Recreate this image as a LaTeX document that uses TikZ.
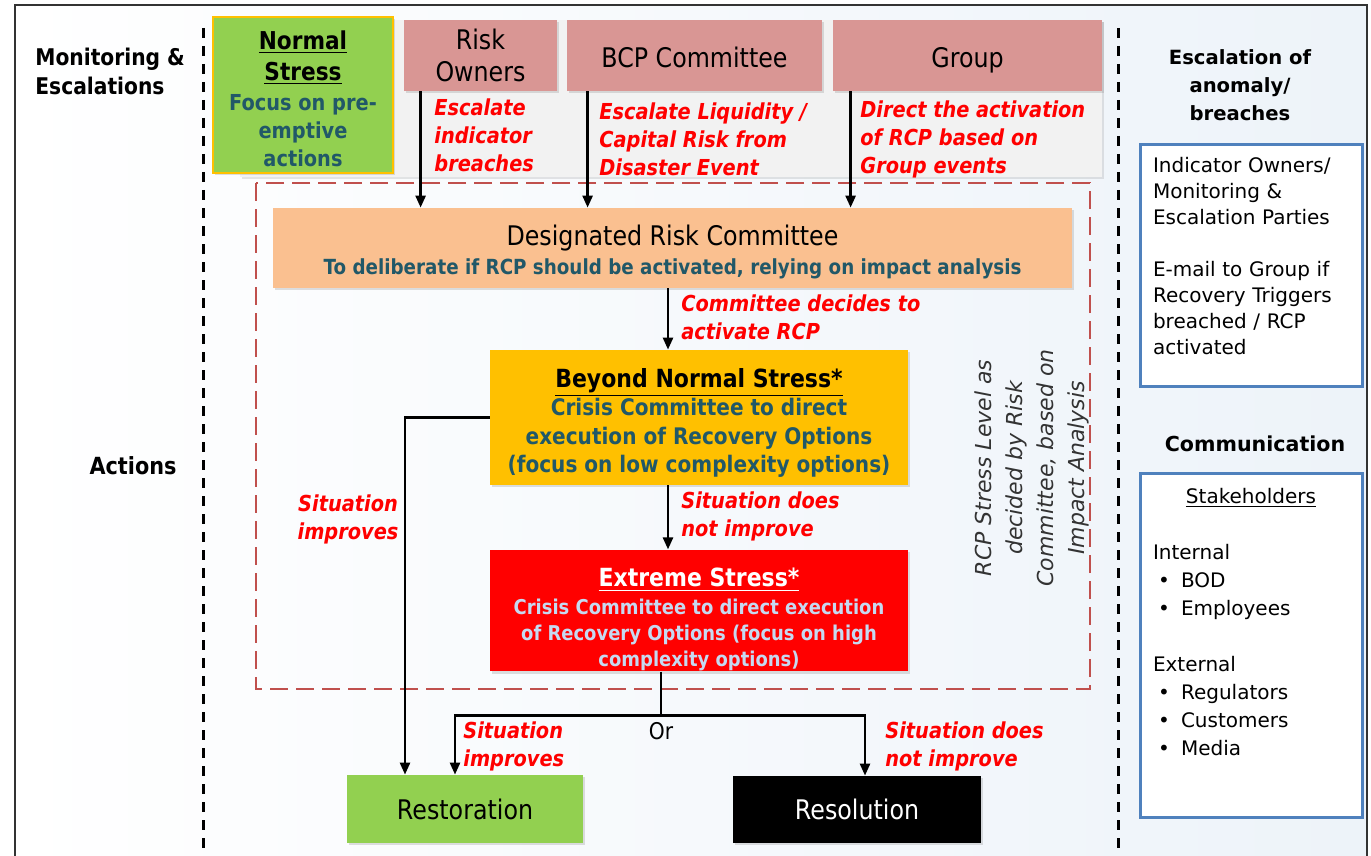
\documentclass[tikz,border=0pt]{standalone}
\usepackage{fontspec}
\setmainfont{DejaVu Sans}
\newfontfamily\condfont{DejaVu Sans}[FakeStretch=0.88]
\usetikzlibrary{arrows.meta,shadows}

\definecolor{pinkbox}{HTML}{D99694}
\definecolor{orangebox}{HTML}{FAC090}
\definecolor{amberbox}{HTML}{FFC000}
\definecolor{greenbox}{HTML}{92D050}
\definecolor{tealtxt}{HTML}{215868}
\definecolor{redtxt}{HTML}{FF0000}
\definecolor{dashred}{HTML}{C0504D}
\definecolor{bluebox}{HTML}{4F81BD}
\definecolor{paletxt}{HTML}{C6D9F1}
\definecolor{panelgray}{HTML}{F2F2F2}
\definecolor{bgblue}{HTML}{EDF3F9}

\newcommand{\fsz}[2]{\fontsize{#1}{#2}\selectfont}
\newcommand{\blt}{\hspace*{2.5pt}\makebox[11.5pt][l]{\textbullet}}

\tikzset{
  box/.style={inner sep=0pt, align=center, font=\condfont\fsz{13.5}{14.5},
    drop shadow={shadow xshift=1.2pt, shadow yshift=-1.2pt, opacity=0.25}},
  redlbl/.style={inner sep=0pt, align=left, anchor=west, text=redtxt,
    font=\condfont\bfseries\itshape\fsz{11}{14}},
  sidehead/.style={inner sep=0pt, align=center, font=\bfseries\fsz{10}{14}},
  sidebox/.style={draw=bluebox, line width=1.5pt, fill=white, minimum width=111pt,
    text width=98pt, inner xsep=0pt, align=left},
  divider/.style={line width=1.5pt, dash pattern=on 5pt off 4pt},
  conn/.style={line width=1.25pt},
  arr/.style={line width=1.25pt, -{Triangle[length=6pt,width=5pt]}}
}

\begin{document}
\begin{tikzpicture}[x=0.5pt,y=-0.5pt]
    \useasboundingbox (0,0) rectangle (1371,856);

    % frame and column dividers
    \shade[left color=white, middle color=white, right color=bgblue] (15,5) rectangle (1367,870);
    \draw[line width=1pt, black!80] (15,5) rectangle (1367,870);
    \draw[divider] (203,28) -- (203,856);
    \draw[divider] (1118,28) -- (1118,856);

    % grey panel behind the top row
    \fill[panelgray, drop shadow={shadow xshift=1.2pt, shadow yshift=-1.2pt, opacity=0.2}] (240,20) rectangle (1102,177);

    % stress levels frame
    \draw[dashred, line width=1.25pt, dash pattern=on 9pt off 4pt] (256,183) rectangle (1090,689);

    % top row
    \node[box, fill=greenbox, draw=amberbox, line width=0.6pt, minimum width=90pt, minimum height=78pt,
        font=\condfont\bfseries\fsz{11}{14}, text=tealtxt] (ns) at (303,95)
        {{\color{black}\fsz{12.3}{14}\rule{0pt}{12.9pt}\underline{Normal}}\\[1.5pt]{\color{black}\fsz{12.3}{14}\underline{Stress}}\\[1pt]Focus on pre-\\emptive\\actions};
    \node[box, fill=pinkbox, minimum width=76.5pt, minimum height=35.5pt, font=\condfont\fsz{13.5}{16}] (ro) at (480.5,55.5) {Risk\\Owners};
    \node[box, fill=pinkbox, minimum width=127.5pt, minimum height=35.5pt] (bcp) at (694.5,55.5) {\rule{0pt}{12pt}BCP Committee};
    \node[box, fill=pinkbox, minimum width=134.5pt, minimum height=35.5pt] (grp) at (967.5,55.5) {\rule{0pt}{15pt}Group};

    % action boxes
    \node[box, fill=orangebox, minimum width=399.5pt, minimum height=40pt] (drc) at (672.5,248)
        {\rule{0pt}{14.3pt}Designated Risk Committee\\{\bfseries\color{tealtxt}\fsz{10.4}{14.5}To deliberate if RCP should be activated, relying on impact analysis}};
    \node[box, fill=amberbox, minimum width=209pt, minimum height=67.5pt,
        font=\condfont\bfseries\fsz{11.4}{14.3}, text=tealtxt] (bns) at (699,417.5)
        {{\color{black}\fsz{12.5}{14.3}\rule{0pt}{15pt}\underline{Beyond Normal Stress*}}\\Crisis Committee to direct\\execution of Recovery Options\\(focus on low complexity options)};
    \node[box, fill=redtxt, minimum width=209pt, minimum height=59.5pt,
        font=\condfont\bfseries\fsz{10.2}{13}, text=paletxt] (es) at (699,610.5)
        {{\color{white}\fsz{12.5}{13}\rule{0pt}{18.5pt}\underline{Extreme Stress*}}\\[1pt]Crisis Committee to direct execution\\of Recovery Options (focus on high\\complexity options)};
    \node[box, fill=greenbox, minimum width=118pt, minimum height=34pt] (rest) at (465,809) {Restoration};
    \node[box, fill=black, text=white, minimum width=124pt, minimum height=33.5pt] (res) at (857,809.5) {Resolution};

    % escalations
    \draw[arr] ([xshift=8.5pt]ro.south west) -- ([xshift=8.5pt]ro.south west |- drc.north);
    \draw[arr] ([xshift=10.5pt]bcp.south west) -- ([xshift=10.5pt]bcp.south west |- drc.north);
    \draw[arr] ([xshift=9pt]grp.south west) -- ([xshift=9pt]grp.south west |- drc.north);
    \draw[arr] ([xshift=-2.25pt]drc.south) -- ([xshift=-2.25pt]drc.south |- bns.north);
    \draw[arr] ([xshift=-15.5pt]bns.south) -- ([xshift=-15.5pt]bns.south |- es.north);
    \draw[arr] (bns.west) -| ([xshift=-30pt]rest.north);
    \coordinate (split) at ([xshift=-19pt,yshift=-22pt]es.south);
    \draw[conn] ([xshift=-19pt]es.south) -- (split);
    \draw[arr] (split) -| ([xshift=-5pt]rest.north);
    \draw[arr] (split) -| ([xshift=4pt]res.north);

    % connector labels
    \node[redlbl] (l1) at (434,135) {Escalate\\indicator\\breaches};
    \node[redlbl] (l2) at (599,139) {Escalate Liquidity /\\Capital Risk from\\Disaster Event};
    \node[redlbl] (l3) at (860,139) {Direct the activation\\of RCP based on\\Group events};
    \node[redlbl] (l4) at (681,317) {Committee decides to\\activate RCP};
    \node[redlbl] (l5) at (681,516) {Situation does\\not improve};
    \node[redlbl, anchor=center, align=center] (l6) at (348,519) {Situation\\improves};
    \node[redlbl] (l7) at (463,746) {Situation\\improves};
    \node[redlbl] (l8) at (885,746) {Situation does\\not improve};
    \node[inner sep=0pt, font=\condfont\fsz{11.5}{14}] (or) at (661,731) {Or};

    % stress level note
    \node[rotate=90, inner sep=0pt, align=center, text=black!80, font=\itshape\fsz{11}{15.5}] (lvl) at (1032,468)
        {RCP Stress Level as\\decided by Risk\\Committee, based on\\Impact Analysis};

    % row headings
    \node[inner sep=0pt, anchor=west, align=left, font=\condfont\bfseries\fsz{11.5}{14.5}] (mon) at (35,71) {Monitoring \&\\Escalations};
    \node[inner sep=0pt, font=\condfont\bfseries\fsz{11.8}{14.5}] (act) at (133,466) {Actions};

    % right column
    \node[sidehead, font=\bfseries\fsz{9.8}{14}] (esch) at (1240,85) {Escalation of\\anomaly/\\breaches};
    \node[sidebox, minimum height=120.5pt, font=\fsz{10}{13}] (esc) at (1251,265.5)
        {Indicator Owners/\\Monitoring \&\\Escalation Parties\\[13pt]E-mail to Group if\\Recovery Triggers\\breached / RCP\\activated\\[-3pt]\mbox{}};
    \node[sidehead, font=\bfseries\fsz{10.3}{14}] (comh) at (1255,444) {Communication};
    \node[sidebox, minimum height=172pt, font=\fsz{10}{14}] (com) at (1251,645)
        {\makebox[98pt][c]{\underline{Stakeholders}}\\[14pt]Internal\\\blt BOD\\\blt Employees\\[14pt]External\\\blt Regulators\\\blt Customers\\\blt Media\\[9pt]\mbox{}};
\end{tikzpicture}
\end{document}
